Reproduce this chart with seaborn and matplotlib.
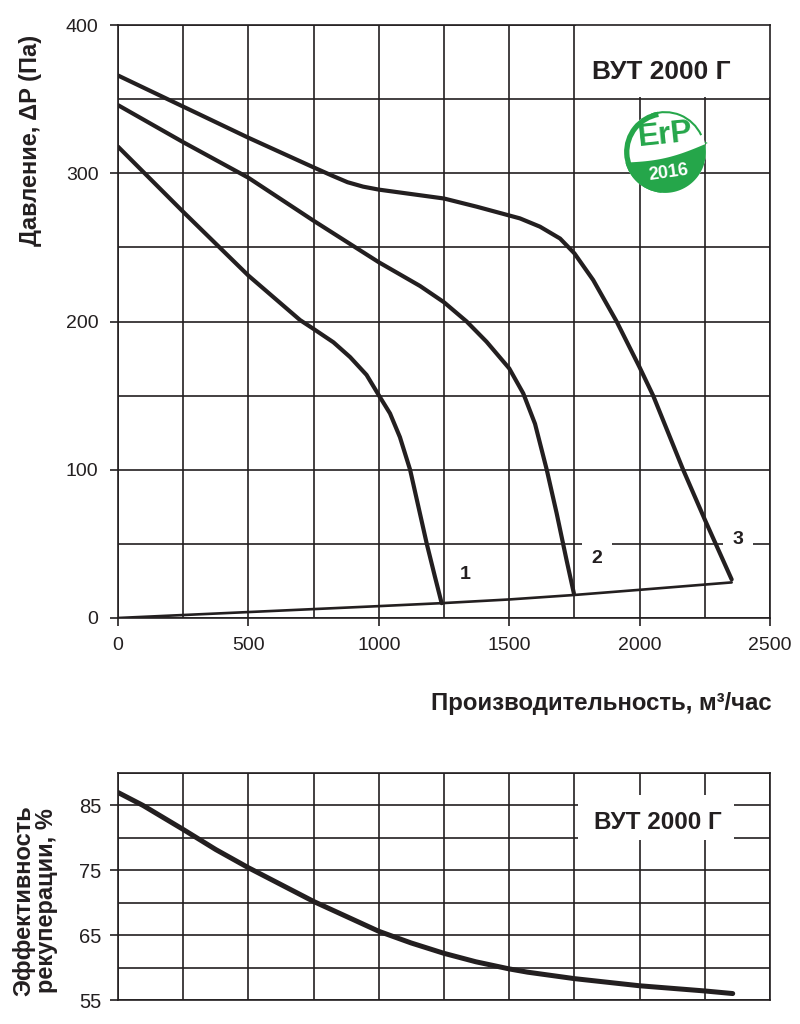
# ==========================================================
# ВУТ 2000 Г - pressure / efficiency curves
# ==========================================================

import numpy as np
import pandas as pd
import matplotlib
matplotlib.use("Agg")
import matplotlib.pyplot as plt
import seaborn as sns
from matplotlib import font_manager
from matplotlib.patches import Circle, Wedge, Polygon, Rectangle
from matplotlib.ticker import MultipleLocator

# ==========================================================
# Data
# ==========================================================

flow_1 = [0, 250, 500, 698, 750, 826, 890, 953, 1001, 1043, 1081, 1120, 1152, 1184, 1215, 1241]
pres_1 = [318, 274, 231, 201, 195, 186, 176, 164, 150, 138, 122, 100, 75, 50, 28, 10]

flow_2 = [0, 250, 500, 750, 1000, 1158, 1250, 1337, 1413, 1500, 1554, 1599, 1644, 1682, 1720, 1748]
pres_2 = [346, 321, 297, 268, 240, 224, 213, 200, 186.4, 168.4, 151.5, 131, 100, 70.6, 39, 16.6]

flow_3 = [0, 250, 500, 750, 820, 880, 940, 1000, 1125, 1250, 1375, 1541, 1618, 1695, 1750, 1822,
          1912, 1999, 2052, 2167, 2251, 2353]
pres_3 = [366, 345, 324, 304, 298.5, 294, 291, 289, 286, 283, 277.5, 269.6, 264, 256, 246, 228,
          200, 169.5, 150, 100, 66, 26]

flow_sys = [0, 500, 1000, 1241, 1500, 1748, 2000, 2353]
pres_sys = [0, 4, 8, 10, 12.5, 15.5, 19, 24]

curve_labels = ["1", "2", "3"]
label_x = [1330, 1837, 2378]
label_y = [29, 40, 53]

eff_flow = [0, 96, 250, 375, 500, 625, 750, 875, 1000, 1124, 1250, 1372, 1500, 1570,
            1750, 2000, 2250, 2357]
eff_vals = [87.0, 85.0, 81.3, 78.2, 75.4, 72.8, 70.2, 67.9, 65.6, 63.8, 62.2, 60.9, 59.8, 59.3,
            58.3, 57.2, 56.4, 56.0]

model_name = "ВУТ 2000 Г"

# ==========================================================
# Style
# ==========================================================

sns.set_theme(style="white")
plt.rcParams["font.family"] = ["Liberation Sans", "DejaVu Sans"]

names = {f.name for f in font_manager.fontManager.ttflist}
narrow = "Liberation Sans Narrow" if "Liberation Sans Narrow" in names else "Liberation Sans"

ink = "#231f20"
green = "#25a64a"

fig = plt.figure(figsize=(8, 10.24), dpi=100)
fig.patch.set_facecolor("white")

# ==========================================================
# Top chart : pressure
# ==========================================================

ax = fig.add_axes([0.1475, 0.3965, 0.815, 0.579])
ax.set_axisbelow(True)

for fx, py in [(flow_1, pres_1), (flow_2, pres_2), (flow_3, pres_3)]:
    df = pd.DataFrame({"flow": fx, "pres": py})
    sns.lineplot(data=df, x="flow", y="pres", ax=ax, color=ink, lw=3.0,
                 estimator=None, sort=False, solid_capstyle="round", solid_joinstyle="round")

sys_df = pd.DataFrame({"flow": flow_sys, "pres": pres_sys})
sns.lineplot(data=sys_df, x="flow", y="pres", ax=ax, color=ink, lw=1.9,
             estimator=None, sort=False)

ax.set_xlim(0, 2500)
ax.set_ylim(0, 400)
ax.xaxis.set_major_locator(MultipleLocator(500))
ax.xaxis.set_minor_locator(MultipleLocator(250))
ax.yaxis.set_major_locator(MultipleLocator(100))
ax.yaxis.set_minor_locator(MultipleLocator(50))
ax.grid(True, which="both", color=ink, lw=1.2)
ax.tick_params(which="major", direction="out", length=6, width=1.2, color=ink,
               labelsize=14, labelcolor=ink, pad=8, left=True, bottom=True)
ax.tick_params(which="minor", length=0)
for s in ax.spines.values():
    s.set_color(ink)
    s.set_linewidth(1.2)

ax.set_xlabel("Производительность, м³/час", fontsize=17.3, fontweight="bold", color=ink)
ax.xaxis.set_label_coords(0.742, -0.125)
ax.set_ylabel("Давление, ΔP (Па)", fontsize=17, fontweight="bold", color=ink)
ax.yaxis.set_label_coords(-0.117, 0.806)

for t, lx, ly in zip(curve_labels, label_x, label_y):
    ax.text(lx, ly, t, fontsize=14, fontweight="bold", color=ink, ha="center", va="center",
            bbox=dict(fc="white", ec="none", pad=7), zorder=1.5)

ax.add_patch(Rectangle((0.702, 0.879), 0.298, 0.121, transform=ax.transAxes,
                       fc="white", ec="none", zorder=1))
ax.text(0.834, 0.921, model_name, transform=ax.transAxes, fontsize=19,
        fontweight="bold", color=ink, ha="center", va="center", zorder=2)

# ErP 2016 logo
logo = fig.add_axes([0.775, 0.8076, 0.1125, 0.0879])
logo.set_xlim(-1.1, 1.1)
logo.set_ylim(-1.1, 1.1)
logo.set_aspect("equal")
logo.axis("off")
logo.add_patch(Circle((0, 0), 1.0, fc="white", ec="none"))
logo.add_patch(Wedge((0, 0), 1.0, 100, 265, width=0.13, fc=green, ec="none"))
logo.add_patch(Wedge((0, 0), 1.0, 25, 110, width=0.05, fc=green, ec="none"))
arc = np.radians(np.linspace(195, 375, 60))
edge_t = np.linspace(0, 1, 30)
x0, y0 = np.cos(np.radians(15)) + 0.08, 0.22
x1, y1 = np.cos(np.radians(195)), np.sin(np.radians(195))
edge_x = x0 - edge_t * (x0 - x1)
edge_y = y0 - edge_t * (y0 - y1) - 0.12 * np.sin(np.pi * edge_t)
leaf = np.column_stack([np.r_[np.cos(arc), edge_x], np.r_[np.sin(arc), edge_y]])
logo.add_patch(Polygon(leaf, closed=True, fc=green, ec="none"))
logo.text(0.0, 0.4, "ErP", fontsize=23, fontweight="bold", color=green,
          ha="center", va="center", rotation=6)
logo.text(0.08, -0.5, "2016", fontsize=13, fontweight="bold", color="white",
          ha="center", va="center", rotation=8, family=narrow)

# ==========================================================
# Bottom chart : heat recovery efficiency
# ==========================================================

bx = fig.add_axes([0.1475, 0.0234, 0.815, 0.2217])
bx.set_axisbelow(True)

eff_df = pd.DataFrame({"flow": eff_flow, "eff": eff_vals})
sns.lineplot(data=eff_df, x="flow", y="eff", ax=bx, color=ink, lw=3.6,
             estimator=None, sort=False, solid_capstyle="round", solid_joinstyle="round")

bx.set_xlim(0, 2500)
bx.set_ylim(55, 90)
bx.xaxis.set_major_locator(MultipleLocator(250))
bx.yaxis.set_major_locator(MultipleLocator(10, offset=5))
bx.yaxis.set_minor_locator(MultipleLocator(5))
bx.grid(True, which="both", color=ink, lw=1.2)
for tk in bx.yaxis.get_minor_ticks():
    if round(tk.get_loc()) in (60, 70):
        tk.gridline.set_linewidth(2.6)
bx.tick_params(axis="x", which="both", length=0, labelbottom=False)
bx.tick_params(axis="y", which="major", direction="out", length=6, width=1.2, color=ink,
               labelsize=14.5, labelcolor=ink, pad=6, left=True)
bx.tick_params(axis="y", which="minor", length=0)
for lab in bx.get_yticklabels():
    lab.set_family(narrow)
for s in bx.spines.values():
    s.set_color(ink)
    s.set_linewidth(1.2)

bx.set_xlabel("")
bx.set_ylabel("Эффективность\nрекуперации, %", fontsize=17, fontweight="bold",
              color=ink, linespacing=0.95)
bx.yaxis.set_label_coords(-0.092, 0.44)

bx.add_patch(Rectangle((0.706, 0.705), 0.239, 0.198, transform=bx.transAxes,
                       fc="white", ec="none", zorder=1))
bx.text(0.828, 0.784, model_name, transform=bx.transAxes, fontsize=17.5,
        fontweight="bold", color=ink, ha="center", va="center", zorder=2, family=narrow)

fig.savefig("out.png", dpi=100, facecolor="white")
